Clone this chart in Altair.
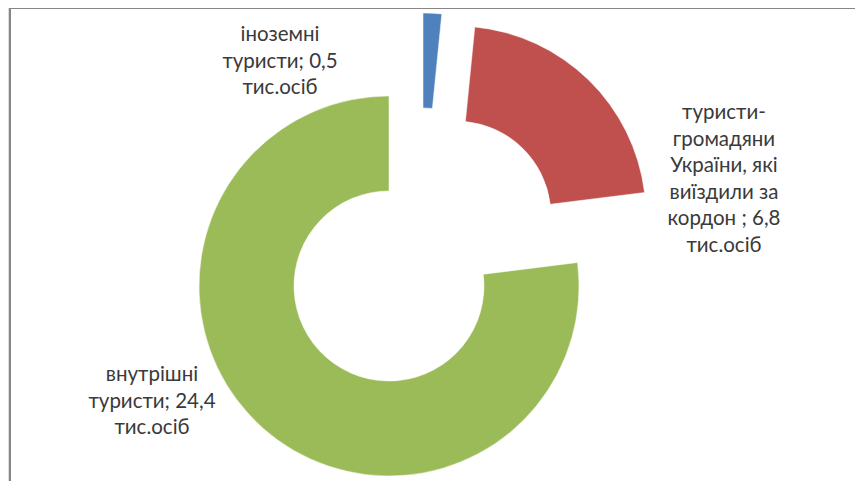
import altair as alt
import pandas as pd

# --- data ---
categories = ["іноземні туристи", "туристи-громадяни України, які виїздили за кордон ", "внутрішні туристи"]
values = [0.5, 6.8, 24.4]
label_lines = [
    ["іноземні", "туристи; 0,5", "тис.осіб"],
    ["туристи-", "громадяни", "України, які", "виїздили за", "кордон ; 6,8", "тис.осіб"],
    ["внутрішні", "туристи; 24,4", "тис.осіб"],
]
colors = ["#4F81BD", "#C0504D", "#9BBB59"]

total = sum(values)
df = pd.DataFrame({"cat": categories, "value": values, "order": list(range(len(values)))})

W, H = 847, 473
R_OUT, R_IN = 190, 95
# slice centres (exploded donut), in chart pixels
centres = [(415, 195), (448, 208), (381, 278)]
# label anchors (centre of first text line)
label_pos = [(272, 27), (716, 105), (144, 367)]

base = (
    alt.Chart(df)
    .transform_window(cum="sum(value)", sort=[alt.SortField("order")], frame=[None, 0])
    .transform_calculate(start="datum.cum - datum.value")
)

theta_scale = alt.Scale(domain=[0, total], nice=False, zero=True)

layers = []
for i, cat in enumerate(categories):
    cx, cy = centres[i]
    arc = (
        base.transform_filter(alt.datum.cat == cat)
        .mark_arc(outerRadius=R_OUT, innerRadius=R_IN, color=colors[i], stroke="white", strokeWidth=0.5)
        .encode(
            theta=alt.Theta("start:Q", scale=theta_scale),
            theta2="cum:Q",
            x=alt.value(cx),
            y=alt.value(cy),
        )
    )
    layers.append(arc)

lab_df = pd.DataFrame({"cat": categories, "text": label_lines})
for i, cat in enumerate(categories):
    lx, ly = label_pos[i]
    t = (
        alt.Chart(lab_df)
        .transform_filter(alt.datum.cat == cat)
        .mark_text(
            font="Lato",
            fontSize=20.5,
            lineHeight=26.5,
            align="center",
            baseline="middle",
            color="#3a3a3a",
        )
        .encode(text="text", x=alt.value(lx), y=alt.value(ly))
    )
    layers.append(t)

frame_df = pd.DataFrame({"a": [0]})
top_rule = alt.Chart(frame_df).mark_rule(color="#868686", strokeWidth=2).encode(
    x=alt.value(2), x2=alt.value(W), y=alt.value(0)
)
left_rule = alt.Chart(frame_df).mark_rule(color="#868686", strokeWidth=2).encode(
    x=alt.value(2), y=alt.value(0), y2=alt.value(H)
)
layers += [top_rule, left_rule]

chart = (
    alt.layer(*layers)
    .properties(width=W, height=H, padding=0, autosize=alt.AutoSizeParams(type="none"))
    .configure_view(stroke=None)
    .configure(background="white")
)

chart.save("out.html", embed_options={"renderer": "svg", "actions": False})
